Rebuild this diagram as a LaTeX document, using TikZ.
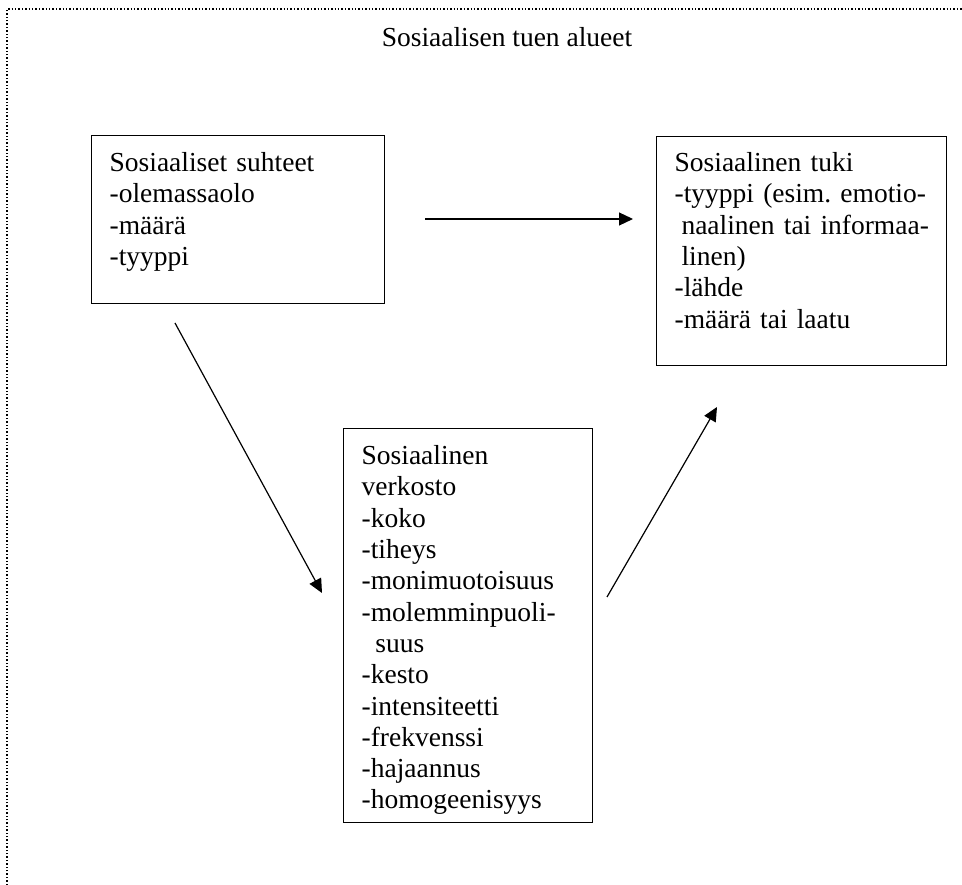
\documentclass[tikz,border=0pt]{standalone}
\usepackage{fontspec}
\setmainfont{Liberation Serif}
\usetikzlibrary{arrows.meta}
\begin{document}
\begin{tikzpicture}[x=1pt,y=-1pt,
  frame/.style={line width=1.4pt, dash pattern=on 1.4pt off 2pt},
  box/.style={draw, line width=1.3pt, anchor=north west, align=left,
    inner xsep=18pt, inner ysep=0pt,
    font=\fontsize{27.5}{31.3}\selectfont\frenchspacing},
  title/.style={anchor=base, inner sep=0pt, font=\fontsize{27.5}{31.3}\selectfont},
  link/.style={line width=1.2pt, -{Triangle[length=14pt,width=13pt]}},
  ]
\useasboundingbox (0,0) rectangle (962,885);

% dotted frame: left and top edges only
\draw[frame] (7,885) -- (7,9) -- (962,9);

\node[title] (head) at (507,47) {Sosiaalisen tuen alueet};

% the three boxes
\node[box, text width=257pt, text height=36pt, text depth=132pt] (rel) at (91,135)
  {Sosiaaliset suhteet\\-olemassaolo\\-määrä\\-tyyppi};

\node[box, text width=254pt, text height=35pt, text depth=194pt] (tuki) at (656,136)
  {Sosiaalinen tuki\\
   \mbox{-tyyppi (esim. emotio-}\\
   \mbox{\hspace*{0.25em}naalinen tai informaa-}\\
   \hspace*{0.25em}linen)\\
   -lähde\\
   -määrä tai laatu};

\node[box, text width=213pt, text height=36pt, text depth=358pt] (verk) at (343,428)
  {Sosiaalinen\\verkosto\\-koko\\-tiheys\\-monimuotoisuus\\-molemminpuoli-\\
   \hspace*{0.5em}suus\\-kesto\\-intensiteetti\\-frekvenssi\\-hajaannus\\-homogeenisyys};

% free ends of the arrows
\coordinate (h1) at (425,219);
\coordinate (h2) at (633,219);
\coordinate (d1) at (175,323);
\coordinate (d2) at (322,593);
\coordinate (u1) at (607,597);
\coordinate (u2) at (717,407);

\draw[link] (h1) -- (h2);
\draw[link] (d1) -- (d2);
\draw[link] (u1) -- (u2);
\end{tikzpicture}
\end{document}
